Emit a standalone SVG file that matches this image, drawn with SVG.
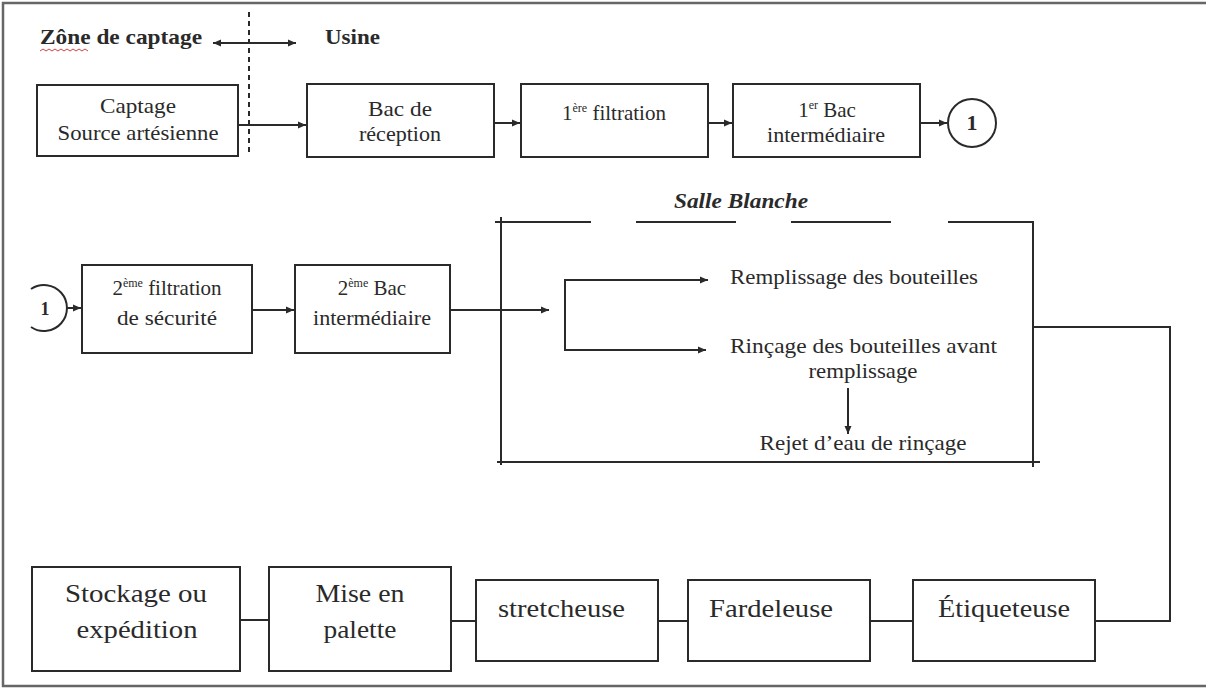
<svg xmlns="http://www.w3.org/2000/svg" width="1206" height="689" viewBox="0 0 1206 689">
<style>
.box{fill:#fff;stroke:#2a2a2a;stroke-width:2}
.ln{fill:none;stroke:#2a2a2a;stroke-width:2}
.t{font-family:"Liberation Serif","Times New Roman",serif;fill:#2a2a2a;font-size:21px}
.tb{font-family:"Liberation Serif","Times New Roman",serif;fill:#2a2a2a;font-size:22px;font-weight:bold}
.big{font-size:26px}
.sup{font-size:12px}
</style>
<defs>
<marker id="ah" markerUnits="userSpaceOnUse" markerWidth="9" markerHeight="8" refX="8" refY="4" orient="auto-start-reverse">
<path d="M0,0.5 L8,4 L0,7.5 z" fill="#2a2a2a"/>
</marker>
</defs>
<rect width="1206" height="689" fill="#fff"/>
<path d="M1206,3 H3 V686 H1206" fill="none" stroke="#666" stroke-width="2.5"/>

<g id="header">
<text class="tb" x="40" y="44" textLength="162" lengthAdjust="spacingAndGlyphs">Zône de captage</text>
<path d="M40,51 l3,-2 l3,2 l3,-2 l3,2 l3,-2 l3,2 l3,-2 l3,2 l3,-2 l3,2 l3,-2 l3,2 l3,-2 l3,2 l3,-2 l3,2" fill="none" stroke="#d04040" stroke-width="1"/>
<text class="tb" x="325" y="44" textLength="55" lengthAdjust="spacingAndGlyphs">Usine</text>
<line class="ln" x1="213" y1="43" x2="296" y2="43" stroke-width="1.5" marker-start="url(#ah)" marker-end="url(#ah)"/>
<line x1="249" y1="12" x2="249" y2="154" stroke="#2a2a2a" stroke-width="2" stroke-dasharray="5,4"/>
</g>

<g id="n-captage">
<rect class="box" x="37" y="85" width="201" height="71"/>
<text class="t" x="138" y="113" text-anchor="middle" textLength="76" lengthAdjust="spacingAndGlyphs">Captage</text>
<text class="t" x="138" y="140" text-anchor="middle" textLength="161" lengthAdjust="spacingAndGlyphs">Source artésienne</text>
</g>
<g id="n-bac-reception">
<rect class="box" x="307" y="84" width="187" height="73"/>
<text class="t" x="400" y="116" text-anchor="middle" textLength="64" lengthAdjust="spacingAndGlyphs">Bac de</text>
<text class="t" x="400" y="141" text-anchor="middle" textLength="82" lengthAdjust="spacingAndGlyphs">réception</text>
</g>
<g id="n-filtration1">
<rect class="box" x="521" y="84" width="187" height="73"/>
<text class="t" x="614" y="120" text-anchor="middle">1<tspan class="sup" dy="-8">ère</tspan><tspan dy="8"> filtration</tspan></text>
</g>
<g id="n-bac1">
<rect class="box" x="733" y="84" width="187" height="73"/>
<text class="t" x="827" y="117" text-anchor="middle">1<tspan class="sup" dy="-8">er</tspan><tspan dy="8"> Bac</tspan></text>
<text class="t" x="826" y="142" text-anchor="middle" textLength="118" lengthAdjust="spacingAndGlyphs">intermédiaire</text>
</g>
<g id="n-conn1-out">
<circle cx="972" cy="123" r="24" fill="#fff" stroke="#2a2a2a" stroke-width="2"/>
<text class="tb" x="972" y="130" text-anchor="middle" font-size="18">1</text>
</g>

<g id="n-conn1-in">
<path d="M31,289 A23,23 0 1 1 31,327" fill="none" stroke="#2a2a2a" stroke-width="2"/>
<text class="tb" x="45" y="315" text-anchor="middle" style="font-size:18px">1</text>
</g>
<g id="n-filtration2">
<rect class="box" x="82" y="265" width="170" height="88"/>
<text class="t" x="167" y="295" text-anchor="middle">2<tspan class="sup" dy="-8">ème</tspan><tspan dy="8"> filtration</tspan></text>
<text class="t" x="167" y="325" text-anchor="middle" textLength="100" lengthAdjust="spacingAndGlyphs">de sécurité</text>
</g>
<g id="n-bac2">
<rect class="box" x="295" y="265" width="155" height="88"/>
<text class="t" x="372" y="295" text-anchor="middle">2<tspan class="sup" dy="-8">ème</tspan><tspan dy="8"> Bac</tspan></text>
<text class="t" x="372" y="325" text-anchor="middle" textLength="118" lengthAdjust="spacingAndGlyphs">intermédiaire</text>
</g>

<g id="n-salle-blanche">
<text class="tb" x="741" y="208" text-anchor="middle" font-style="italic" style="font-size:20px" textLength="134" lengthAdjust="spacingAndGlyphs">Salle Blanche</text>
<path class="ln" d="M495,222 H591 M636,222 H736 M791,222 H891 M948,222 H1033 V467 M501,217 V465 M497,462 H1040"/>
<text class="t" x="730" y="284" textLength="248" lengthAdjust="spacingAndGlyphs">Remplissage des bouteilles</text>
<text class="t" x="730" y="353" textLength="267" lengthAdjust="spacingAndGlyphs">Rinçage des bouteilles  avant</text>
<text class="t" x="863" y="378" text-anchor="middle" textLength="109" lengthAdjust="spacingAndGlyphs">remplissage</text>
<text class="t" x="863" y="450" text-anchor="middle" textLength="207" lengthAdjust="spacingAndGlyphs">Rejet d’eau de rinçage</text>
</g>

<g id="n-stockage">
<rect class="box" x="32" y="567" width="208" height="104"/>
<text class="t big" x="136" y="602" text-anchor="middle" textLength="142" lengthAdjust="spacingAndGlyphs">Stockage ou</text>
<text class="t big" x="137" y="638" text-anchor="middle" textLength="121" lengthAdjust="spacingAndGlyphs">expédition</text>
</g>
<g id="n-palette">
<rect class="box" x="269" y="567" width="182" height="104"/>
<text class="t big" x="360" y="602" text-anchor="middle" textLength="89" lengthAdjust="spacingAndGlyphs">Mise en</text>
<text class="t big" x="360" y="638" text-anchor="middle" textLength="73" lengthAdjust="spacingAndGlyphs">palette</text>
</g>
<g id="n-stretcheuse">
<rect class="box" x="476" y="580" width="182" height="81"/>
<text class="t big" x="498" y="617" textLength="127" lengthAdjust="spacingAndGlyphs">stretcheuse</text>
</g>
<g id="n-fardeleuse">
<rect class="box" x="688" y="580" width="182" height="81"/>
<text class="t big" x="771" y="617" text-anchor="middle" textLength="124" lengthAdjust="spacingAndGlyphs">Fardeleuse</text>
</g>
<g id="n-etiqueteuse">
<rect class="box" x="913" y="580" width="182" height="81"/>
<text class="t big" x="1004" y="617" text-anchor="middle" textLength="132" lengthAdjust="spacingAndGlyphs">Étiqueteuse</text>
</g>

<g id="connectors">
<line class="ln" x1="238" y1="125" x2="306" y2="125" marker-end="url(#ah)"/>
<line class="ln" x1="494" y1="123" x2="520" y2="123" marker-end="url(#ah)"/>
<line class="ln" x1="708" y1="123" x2="732" y2="123" marker-end="url(#ah)"/>
<line class="ln" x1="920" y1="123" x2="947" y2="123" marker-end="url(#ah)"/>
<line class="ln" x1="67" y1="308" x2="81" y2="308" marker-end="url(#ah)"/>
<line class="ln" x1="252" y1="310" x2="294" y2="310" marker-end="url(#ah)"/>
<line class="ln" x1="450" y1="310" x2="549" y2="310" marker-end="url(#ah)"/>
<path class="ln" d="M708,280 H565 V350 H706" marker-start="url(#ah)" marker-end="url(#ah)"/>
<line class="ln" x1="848" y1="388" x2="848" y2="434" stroke-width="1.5" marker-end="url(#ah)"/>
<path class="ln" d="M1033,327 H1170 V621 H1095"/>
<line class="ln" x1="240" y1="620" x2="269" y2="620"/>
<line class="ln" x1="451" y1="621" x2="476" y2="621"/>
<line class="ln" x1="658" y1="621" x2="688" y2="621"/>
<line class="ln" x1="870" y1="621" x2="913" y2="621"/>
</g>
</svg>
